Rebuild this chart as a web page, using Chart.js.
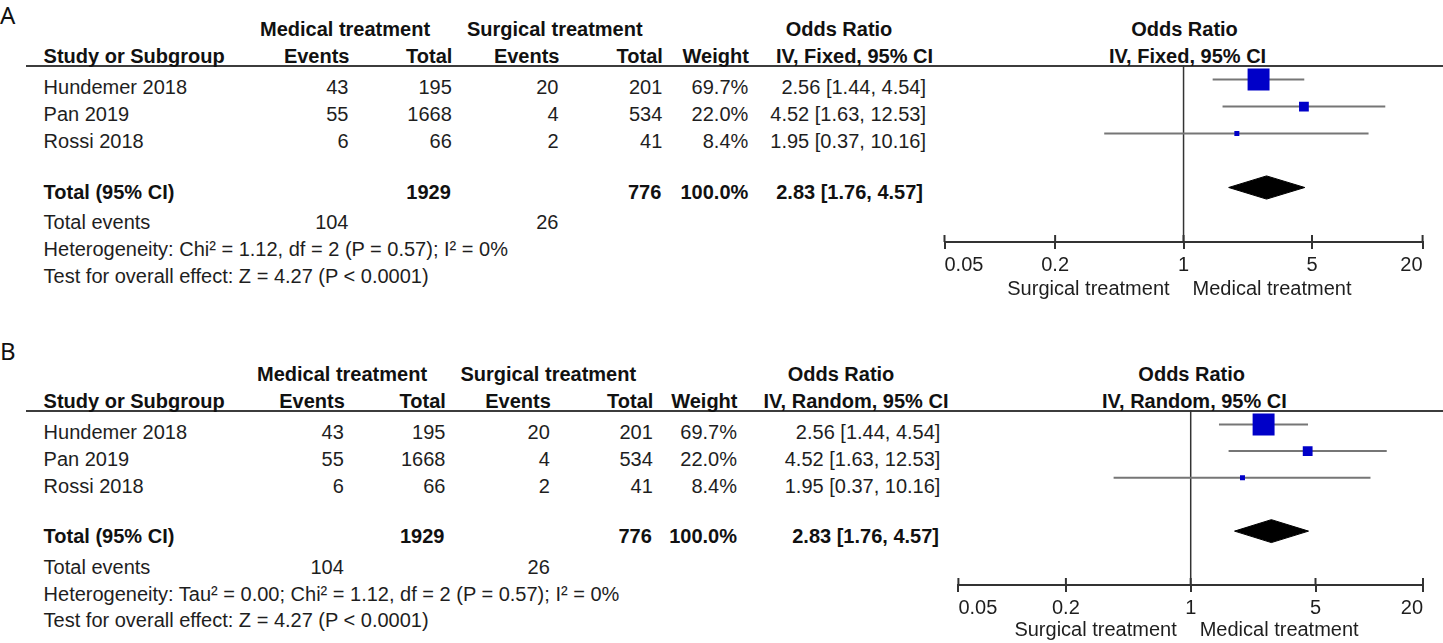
<!DOCTYPE html>
<html><head><meta charset="utf-8">
<script src="https://cdn.jsdelivr.net/npm/chart.js@4.4.1/dist/chart.umd.min.js"></script>
<style>
html,body{margin:0;padding:0;background:#fff}
body{width:1443px;height:643px;position:relative;overflow:hidden;font-family:"Liberation Sans",Arial,sans-serif;font-size:20px;color:#1e1e1e}
.t{position:absolute;white-space:nowrap;line-height:20px;font-size:20px}
.b{font-weight:bold;color:#111}
.letter{position:absolute;font-family:"Noto Sans",sans-serif;font-size:24px;line-height:24px;color:#111}
.hline{position:absolute;height:2px;background:#3c3c3c}
.cv{position:absolute}
</style></head>
<body>
<script>
// ---------- data ----------
const studies = ['Hundemer 2018', 'Pan 2019', 'Rossi 2018'];
const medEvents = [43, 55, 6];
const medTotal = [195, 1668, 66];
const surEvents = [20, 4, 2];
const surTotal = [201, 534, 41];
const weights = [69.7, 22.0, 8.4];
const orEst = [2.56, 4.52, 1.95];
const orLow = [1.44, 1.63, 0.37];
const orHigh = [4.54, 12.53, 10.16];
const pooledEst = [2.83];
const pooledLow = [1.76];
const pooledHigh = [4.57];
const totalParticipants = [1929, 776];
const totalEvents = [104, 26];
const totalWeight = [100.0];
const tickValues = [0.05, 0.2, 1, 5, 20];
const tickLabels = ['0.05', '0.2', '1', '5', '20'];
const methodLabels = ['IV, Fixed, 95% CI', 'IV, Random, 95% CI'];
const heterogeneityTexts = ['Heterogeneity: Chi\u00b2 = 1.12, df = 2 (P = 0.57); I\u00b2 = 0%',
  'Heterogeneity: Tau\u00b2 = 0.00; Chi\u00b2 = 1.12, df = 2 (P = 0.57); I\u00b2 = 0%'];
const overallTexts = ['Test for overall effect: Z = 4.27 (P < 0.0001)', 'Test for overall effect: Z = 4.27 (P < 0.0001)'];
const panelLetters = ['A', 'B'];
const favourLabels = ['Surgical treatment', 'Medical treatment'];
const studyRows = [1, 2, 3];
const totalRow = [5];

// ---------- layout (positions only) ----------
const W = 1443;
const layouts = [
  {letterTop: 3, h1: 28.8, h2: 55.5, rows: [87.2, 113.8, 140.5], total: 192.2, tev: 222.2, het: 248.8, test: 275.5, fav: 287.5,
   lineY: 64.5, name: 43.6, ev1: 348.5, tot1: 451.8, ev2: 558.5, tot2: 662.3, w: 748.3, ci: 926, tci: 923,
   medL: 260, surL: 467, orC: 839, mC: 854.5, fOrC: 1184.5, fMC: 1187.6,
   canvas: {left: 880, top: 40, w: 563, h: 290}, pad: {left: 64.5, right: 20.4, top: 25, bottom: 38}},
  {letterTop: 339, h1: 373.8, h2: 400.5, rows: [432, 458.8, 486], total: 536, tev: 567, het: 593.8, test: 619.8, fav: 628.8,
   lineY: 409.5, name: 43.6, ev1: 343.8, tot1: 445.4, ev2: 549.8, tot2: 652.8, w: 737, ci: 940.4, tci: 939,
   medL: 257, surL: 460.5, orC: 841, mC: 856, fOrC: 1191.7, fMC: 1194.4,
   canvas: {left: 880, top: 385, w: 563, h: 258}, pad: {left: 78.4, right: 20, top: 25, bottom: 8}}
];

const CAP = 9.77;
function txt(s, x, cy, align, bold) {
  const d = document.createElement('div');
  d.className = 't' + (bold ? ' b' : '');
  d.textContent = s;
  d.style.top = (cy - CAP) + 'px';
  if (align === 'r') { d.style.right = (W - x) + 'px'; }
  else if (align === 'c') { d.style.left = x + 'px'; d.style.transform = 'translateX(-50%)'; }
  else { d.style.left = x + 'px'; }
  document.body.appendChild(d);
  return d;
}
const f2 = v => v.toFixed(2);
const ciText = (e, l, h) => f2(e) + ' [' + f2(l) + ', ' + f2(h) + ']';

const tickPlugin = {
  id: 'innerTicks',
  afterDraw(chart) {
    const sx = chart.scales.x, ctx = chart.ctx;
    ctx.save();
    ctx.strokeStyle = '#333'; ctx.lineWidth = 2;
    sx.ticks.forEach(t => {
      const px = sx.getPixelForValue(t.value);
      ctx.beginPath(); ctx.moveTo(px, sx.top - 7); ctx.lineTo(px, sx.top); ctx.stroke();
    });
    ctx.restore();
  }
};

layouts.forEach((L, p) => {
  const letter = document.createElement('div');
  letter.className = 'letter'; letter.textContent = panelLetters[p];
  letter.style.left = '0px'; letter.style.top = L.letterTop + 'px';
  document.body.appendChild(letter);

  const hl = document.createElement('div');
  hl.className = 'hline'; hl.style.left = '26px'; hl.style.width = (W - 26) + 'px'; hl.style.top = L.lineY + 'px';
  document.body.appendChild(hl);

  // headers
  txt('Medical treatment', L.medL, L.h1, 'l', true);
  txt('Surgical treatment', L.surL, L.h1, 'l', true);
  txt('Odds Ratio', L.orC, L.h1, 'c', true);
  txt('Odds Ratio', L.fOrC, L.h1, 'c', true);
  txt('Study or Subgroup', L.name, L.h2, 'l', true);
  txt('Events', L.ev1 + 1, L.h2, 'r', true);
  txt('Total', L.tot1 + 0.5, L.h2, 'r', true);
  txt('Events', L.ev2 + 1, L.h2, 'r', true);
  txt('Total', L.tot2 + 0.5, L.h2, 'r', true);
  txt('Weight', L.w + 0.5, L.h2, 'r', true);
  txt(methodLabels[p], L.mC, L.h2, 'c', true);
  txt(methodLabels[p], L.fMC, L.h2, 'c', true);

  // rows
  studies.forEach((s, i) => {
    const y = L.rows[i];
    txt(s, L.name, y, 'l');
    txt(String(medEvents[i]), L.ev1, y, 'r');
    txt(String(medTotal[i]), L.tot1, y, 'r');
    txt(String(surEvents[i]), L.ev2, y, 'r');
    txt(String(surTotal[i]), L.tot2, y, 'r');
    txt(weights[i].toFixed(1) + '%', L.w, y, 'r');
    txt(ciText(orEst[i], orLow[i], orHigh[i]), L.ci, y, 'r');
  });
  txt('Total (95% CI)', L.name, L.total, 'l', true);
  txt(String(totalParticipants[0]), L.tot1 - 1, L.total, 'r', true);
  txt(String(totalParticipants[1]), L.tot2 - 1, L.total, 'r', true);
  txt(totalWeight[0].toFixed(1) + '%', L.w, L.total, 'r', true);
  txt(ciText(pooledEst[0], pooledLow[0], pooledHigh[0]), L.tci, L.total, 'r', true);
  txt('Total events', L.name, L.tev, 'l');
  txt(String(totalEvents[0]), L.ev1, L.tev, 'r');
  txt(String(totalEvents[1]), L.ev2, L.tev, 'r');
  txt(heterogeneityTexts[p], L.name, L.het, 'l');
  txt(overallTexts[p], L.name, L.test, 'l');

  // chart
  const wrap = document.createElement('div');
  wrap.className = 'cv';
  wrap.style.left = L.canvas.left + 'px'; wrap.style.top = L.canvas.top + 'px';
  wrap.style.width = L.canvas.w + 'px'; wrap.style.height = L.canvas.h + 'px';
  const cv = document.createElement('canvas');
  cv.width = L.canvas.w; cv.height = L.canvas.h;
  cv.style.width = L.canvas.w + 'px'; cv.style.height = L.canvas.h + 'px';
  wrap.appendChild(cv); document.body.appendChild(wrap);

  const yMin = 0.46, yMax = 7.02, dh = 0.43;
  const datasets = [];
  // null line
  datasets.push({data: [{x: 1, y: yMin}, {x: 1, y: yMax}], borderColor: '#333', borderWidth: 1.5, pointRadius: 0, fill: false, order: 3});
  // CI lines
  studies.forEach((s, i) => {
    datasets.push({data: [{x: orLow[i], y: studyRows[i]}, {x: orHigh[i], y: studyRows[i]}],
      borderColor: '#767676', borderWidth: 2, pointRadius: 0, fill: false, order: 2});
  });
  // squares
  datasets.push({data: studies.map((s, i) => ({x: orEst[i], y: studyRows[i]})), showLine: false, order: 1,
    pointStyle: 'rect', backgroundColor: '#0000c8', borderColor: '#0000c8', pointBorderWidth: 0,
    pointRadius: ctx => 1.125 * Math.pow(weights[ctx.dataIndex], 0.7) / (2 * Math.SQRT1_2)});
  // diamond
  const tr = totalRow[0];
  datasets.push({data: [{x: pooledLow[0], y: tr}, {x: pooledEst[0], y: tr - dh}, {x: pooledHigh[0], y: tr},
      {x: pooledEst[0], y: tr + dh}, {x: pooledLow[0], y: tr}], order: 1,
    borderColor: '#000', backgroundColor: '#000', borderWidth: 1, pointRadius: 0, fill: 'shape'});

  const chart = new Chart(cv, {
    type: 'line',
    data: {datasets},
    options: {
      responsive: false, animation: false, devicePixelRatio: 1,
      layout: {padding: L.pad},
      plugins: {legend: {display: false}, tooltip: {enabled: false}},
      elements: {line: {tension: 0}},
      scales: {
        x: {type: 'logarithmic', min: tickValues[0], max: tickValues[tickValues.length - 1],
          afterBuildTicks: sc => { sc.ticks = tickValues.map(v => ({value: v})); },
          afterFit: sc => { sc.height = 50; },
          border: {display: true, color: '#333', width: 2},
          grid: {display: true, drawOnChartArea: false, drawTicks: true, tickLength: 7, color: '#333', lineWidth: 2},
          ticks: {autoSkip: false, maxRotation: 0, minRotation: 0, align: 'inner', padding: 4, color: '#1e1e1e',
            font: {family: 'Liberation Sans', size: 20},
            callback: (v, i) => tickLabels[i]}},
        y: {type: 'linear', reverse: true, min: yMin, max: yMax, display: false}
      }
    },
    plugins: [tickPlugin]
  });

  const nullPx = L.canvas.left + chart.scales.x.getPixelForValue(1);
  txt(favourLabels[0], nullPx - 14, L.fav, 'r');
  txt(favourLabels[1], nullPx + 9, L.fav, 'l');
});
</script>
</body></html>
